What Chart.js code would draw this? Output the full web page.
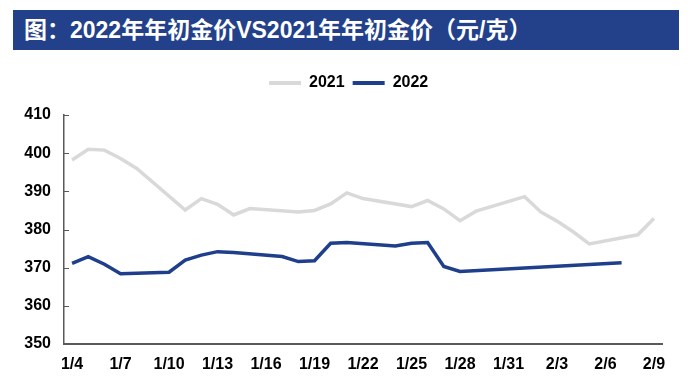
<!DOCTYPE html>
<html>
<head>
<meta charset="utf-8">
<script src="https://cdn.jsdelivr.net/npm/chart.js@4/dist/chart.umd.min.js"></script>
<style>
  html, body { margin: 0; padding: 0; background: #fff; }
  #wrap { position: relative; width: 700px; height: 385px; }
  #goldChart { position: absolute; left: 0; top: 0; }
  #title {
    position: absolute; left: 13px; top: 10px; width: 666px; height: 40px;
    box-sizing: border-box; padding-left: 11px;
    background: #22418a; color: #fff; white-space: nowrap;
    font: bold 23px "Liberation Sans", "Noto Sans CJK SC", sans-serif; line-height: 40px;
  }
</style>
</head>
<body>
<div id="wrap">
  <canvas id="goldChart" width="700" height="385"></canvas>
  <div id="title">图：2022年年初金价VS2021年年初金价（元/克）</div>
</div>
<script>
// daily axis 1/4 .. 2/9, weekends / holidays left empty
const dayLabels = [
  "1/4", "1/5", "1/6", "1/7", "1/8", "1/9", "1/10", "1/11", "1/12", "1/13",
  "1/14", "1/15", "1/16", "1/17", "1/18", "1/19", "1/20", "1/21", "1/22", "1/23",
  "1/24", "1/25", "1/26", "1/27", "1/28", "1/29", "1/30", "1/31", "2/1", "2/2",
  "2/3", "2/4", "2/5", "2/6", "2/7", "2/8", "2/9"
];

const gold2021 = [
  398.2, 401.0, 400.8, 398.6, 396.0, null, null, 385.1, 388.1, 386.6,
  383.8, 385.5, null, null, 384.6, 385.0, 386.7, 389.6, 388.1, null,
  null, 386.0, 387.6, 385.4, 382.3, 384.8, null, null, 388.6, 384.6,
  382.2, 379.4, 376.2, null, null, 378.6, 382.9
];

const gold2022 = [
  371.1, 372.9, 370.9, 368.4, null, null, 368.8, 372.0, 373.3, 374.2,
  374.0, null, null, 372.9, 371.6, 371.8, 376.4, 376.6, null, null,
  375.7, 376.4, 376.6, 370.3, 369.0, null, null, null, null, null,
  null, null, null, null, 371.3, null, null
];

const yMin = 350;
const yMax = 410;
const yStep = 10;

const axisColor = "#595959";
const labelFont = { family: "'Liberation Sans', Arial, sans-serif", size: 16, weight: "bold" };

// where the plot should land on the 700x385 page
const target = { left: 64, right: 662, top: 115, bottom: 344, legendY: 83 };
const legendShift = 12;
let legendExtra = 0;

const legendGap = {
  id: "legendGap",
  beforeInit(chart) {
    const fit = chart.legend.fit;
    chart.legend.fit = function () {
      fit.call(this);
      this.height += legendExtra;
    };
  },
  afterLayout(chart) {
    chart.legend.left += legendShift;
    chart.legend.right += legendShift;
  }
};

const innerTicks = {
  id: "innerTicks",
  afterDraw(chart) {
    const yScale = chart.scales.y;
    const ctx = chart.ctx;
    ctx.save();
    ctx.strokeStyle = axisColor;
    ctx.lineWidth = 1;
    yScale.ticks.forEach((tick) => {
      const py = Math.round(yScale.getPixelForValue(tick.value)) + 0.5;
      ctx.beginPath();
      ctx.moveTo(yScale.right, py);
      ctx.lineTo(yScale.right + 5, py);
      ctx.stroke();
    });
    ctx.restore();
  }
};

const chart = new Chart(document.getElementById("goldChart"), {
  type: "line",
  data: {
    labels: dayLabels,
    datasets: [
      { label: "2021", data: gold2021, borderColor: "#d9d9d9", backgroundColor: "#d9d9d9", borderWidth: 3.5, pointRadius: 0, tension: 0, spanGaps: true },
      { label: "2022", data: gold2022, borderColor: "#1f3f8c", backgroundColor: "#1f3f8c", borderWidth: 3.5, pointRadius: 0, tension: 0, spanGaps: true }
    ]
  },
  options: {
    responsive: false,
    animation: false,
    devicePixelRatio: 1,
    layout: { padding: { left: 10, right: 30, top: 50, bottom: 10 } },
    plugins: {
      title: { display: false },
      tooltip: { enabled: false },
      legend: {
        position: "top",
        align: "center",
        labels: {
          color: "#000",
          font: labelFont,
          boxWidth: 32,
          boxHeight: 4,
          padding: 8,
          generateLabels(c) {
            return Chart.defaults.plugins.legend.labels.generateLabels(c)
              .map((item) => ({ ...item, lineWidth: 0, strokeStyle: "rgba(0,0,0,0)" }));
          }
        }
      }
    },
    scales: {
      x: {
        type: "category",
        offset: true,
        grid: { drawOnChartArea: false, drawTicks: false },
        border: { color: axisColor, width: 2 },
        ticks: {
          autoSkip: false,
          maxRotation: 0,
          color: "#000",
          font: labelFont,
          padding: 11,
          callback: (value, index) => (index % 3 === 0 ? dayLabels[index] : "")
        }
      },
      y: {
        min: yMin,
        max: yMax,
        grid: { drawOnChartArea: false, drawTicks: false },
        border: { color: axisColor, width: 1.5 },
        ticks: { stepSize: yStep, color: "#000", font: labelFont, padding: 13 }
      }
    }
  },
  plugins: [legendGap, innerTicks]
});

function calibrate() {
  const area = chart.chartArea;
  const pad = chart.options.layout.padding;
  const box = chart.legend.legendHitBoxes[0];
  const legendCenter = box.top + box.height / 2;
  const shift = target.legendY - legendCenter;

  pad.left += target.left - area.left;
  pad.right += area.right - target.right;
  pad.bottom += area.bottom - target.bottom;
  pad.top += shift;
  legendExtra += target.top - (area.top + shift);
  chart.update("none");
}

calibrate();
calibrate();
</script>
</body>
</html>
